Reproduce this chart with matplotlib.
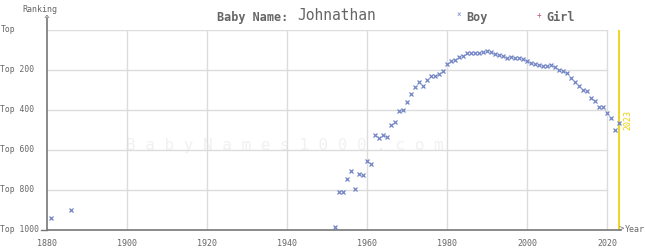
import matplotlib
matplotlib.use("Agg")
import matplotlib.pyplot as plt

years = [1881, 1886, 1952, 1953, 1954, 1955, 1956, 1957, 1958, 1959, 1960, 1961,
         1962, 1963, 1964, 1965, 1966, 1967, 1968, 1969, 1970, 1971, 1972, 1973,
         1974, 1975, 1976, 1977, 1978, 1979, 1980, 1981, 1982, 1983, 1984, 1985,
         1986, 1987, 1988, 1989, 1990, 1991, 1992, 1993, 1994, 1995, 1996, 1997,
         1998, 1999, 2000, 2001, 2002, 2003, 2004, 2005, 2006, 2007, 2008, 2009,
         2010, 2011, 2012, 2013, 2014, 2015, 2016, 2017, 2018, 2019, 2020, 2021,
         2022, 2023]
boy_rank = [942, 902, 987, 812, 812, 747, 707, 797, 722, 727, 657, 672,
            527, 542, 527, 537, 477, 462, 407, 402, 362, 322, 287, 262,
            282, 252, 232, 232, 222, 207, 172, 157, 152, 137, 132, 117,
            117, 117, 117, 112, 107, 112, 122, 127, 132, 142, 137, 142,
            142, 147, 157, 167, 172, 177, 182, 182, 177, 187, 202, 207,
            217, 242, 262, 282, 302, 307, 342, 357, 387, 387, 417, 442,
            502, 467]
x_ticks = [1880, 1900, 1920, 1940, 1960, 1980, 2000, 2020]
y_ticks = [0, 200, 400, 600, 800, 1000]
y_labels = ["Top", "Top 200", "Top 400", "Top 600", "Top 800", "Top 1000"]

MONO = "DejaVu Sans Mono"
GRAY = "#666666"
AX = "#777777"
GRID = "#dcdcdc"
BOY = "#7083c4"
GIRL = "#c0587a"
YEL = "#ecd000"

fig = plt.figure(figsize=(6.45, 2.5), dpi=100)
ax = fig.add_axes([47/645, 20.5/250, 584/645, 200/250])
ax.set_xlim(1880, 2026)
ax.set_ylim(1000, 0)
for s in ax.spines.values():
    s.set_visible(False)
ax.set_xticks([]); ax.set_yticks([])
ax.patch.set_alpha(0)

# grid
for x in x_ticks[1:]:
    ax.plot([x, x], [0, 1000], color=GRID, lw=1, zorder=1)
for y in y_ticks[:-1]:
    ax.plot([1880, 2020], [y, y], color=GRID, lw=1, zorder=1)

# watermark
ax.text(1939.5, 580, "B a b y N a m e s 1 0 0 0 . c o m", fontsize=11.5, family=MONO,
        color="#f1f1f1", ha="center", va="center", zorder=0)

# axes lines
ax.plot([1880, 1880], [1000, -60], color=AX, lw=1.2, clip_on=False, zorder=3)
ax.plot([1880, 2023.5], [1000, 1000], color=AX, lw=1.2, clip_on=False, zorder=3)
ax.text(1880, -45, "^", fontsize=7, family=MONO, color=AX, ha="center", va="center", clip_on=False)
ax.text(2023.6, 1000, ">", fontsize=6.5, family=MONO, color=AX, ha="center", va="center", clip_on=False)
fig.text(40/645, 1 - 9/250, "Ranking", fontsize=6, family=MONO, color=GRAY, ha="center", va="center")
fig.text(625/645, 1 - 229/250, "Year", fontsize=6, family=MONO, color=GRAY, ha="left", va="center")

# tick labels
for y, lab in zip(y_ticks, y_labels):
    fig.text(0.5/645, 1 - (30 + y*0.2)/250, lab, fontsize=5.8, family=MONO, color=GRAY,
             ha="left", va="center")
for x in x_ticks:
    fig.text((47 + (x-1880)*4)/645, 1 - 243/250, str(x), fontsize=6, family=MONO,
             color=GRAY, ha="center", va="center")
ax.plot([1878.5, 1880], [1000, 1000], color=AX, lw=1, clip_on=False)

# 2023 marker
ax.plot([2023, 2023], [0, 1000], color=YEL, lw=1.2, zorder=2)
ax.text(2024.1, 455, "2023", rotation=90, fontsize=6, family=MONO, color=YEL,
        ha="left", va="center", clip_on=False)

# data
ax.plot(years, boy_rank, linestyle="none", marker="x", markersize=2.3,
        markeredgewidth=0.9, color=BOY, zorder=4, clip_on=False)

# title and legend
fig.text(217/645, 1 - 17/250, "Baby Name:", fontsize=8.5, family=MONO, weight="bold",
         color=GRAY, ha="left", va="center")
fig.text(297/645, 1 - 16/250, "Johnathan", fontsize=10.5, family=MONO,
         color=GRAY, ha="left", va="center")
fig.text(459/645, 1 - 15/250, "×", fontsize=5.5, family=MONO, color=BOY, ha="center", va="center")
fig.text(466/645, 1 - 17/250, "Boy", fontsize=8.5, family=MONO, weight="bold",
         color=GRAY, ha="left", va="center")
fig.text(539/645, 1 - 15/250, "+", fontsize=5.5, family=MONO, color=GIRL, ha="center", va="center")
fig.text(546/645, 1 - 17/250, "Girl", fontsize=8.5, family=MONO, weight="bold",
         color=GRAY, ha="left", va="center")

fig.savefig("out.png", dpi=100)
